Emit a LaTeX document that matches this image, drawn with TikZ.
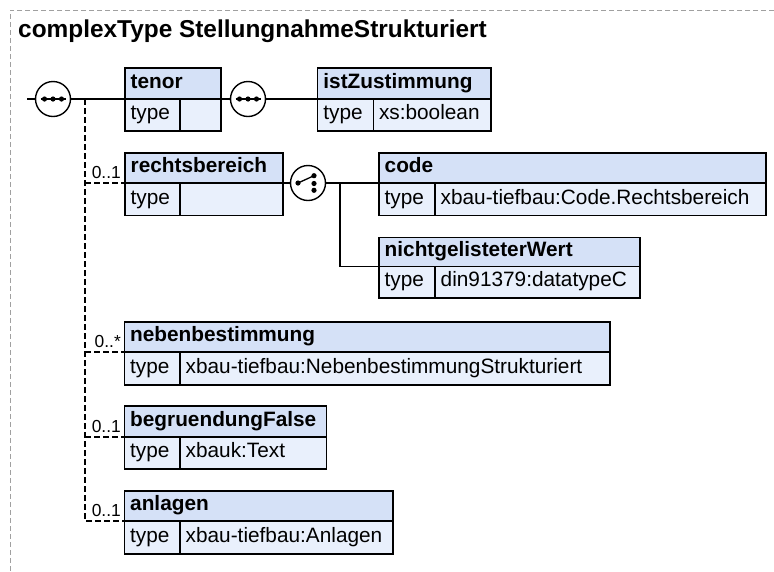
\documentclass[tikz,border=0pt]{standalone}
\usepackage{fontspec}
\setmainfont{Liberation Sans}
\definecolor{hdrcol}{RGB}{213,225,247}
\definecolor{bdycol}{RGB}{233,240,252}
\definecolor{framecol}{RGB}{160,160,160}
\tikzset{
 conn/.style={line width=1.3pt, black},
 optconn/.style={line width=1.2pt, black, dash pattern=on 6pt off 3pt},
 outerframe/.style={line width=1pt, framecol, dash pattern=on 5pt off 3pt},
 boxline/.style={line width=1.5pt, black},
 comp/.style={circle, draw, line width=1.4pt, fill=white, minimum size=35pt, inner sep=0pt},
 txt/.style={inner sep=0pt, font=\fontsize{20.8}{24}\selectfont},
 hdrtxt/.style={inner sep=0pt, font=\fontsize{20.8}{24}\selectfont\bfseries},
 lbl/.style={inner sep=0pt, font=\fontsize{17.4}{20}\selectfont},
 titletxt/.style={inner sep=0pt, font=\fontsize{24.4}{28}\selectfont\bfseries}
}
% #1 name, #2 x1, #3 x2, #4 xsep, #5 ytop, #6 ymid, #7 ybot, #8 title, #9 value
\newcommand\elbox[9]{%
 \pgfmathsetmacro\elbw{#3-#2}\pgfmathsetmacro\elbh{#7-#5}%
 \fill[bdycol] (#2,#5) rectangle (#3,#7);
 \fill[hdrcol] (#2,#5) rectangle (#3,#6);
 \draw[boxline] (#2,#6) -- (#3,#6) (#4,#6) -- (#4,#7);
 \node[draw, boxline, rectangle, inner sep=0pt, minimum width=\elbw pt, minimum height=\elbh pt, anchor=north west] (#1) at (#2,#5) {};
 \coordinate (#1-in) at (#2,#6);
 \coordinate (#1-out) at (#3,#6);
 \node[hdrtxt, anchor=base west] (#1-name) at (#2+6.5,#6-10.5) {#8};
 \node[txt, anchor=base west] (#1-tl) at (#2+6.5,#7-10.5) {type};
 \node[txt, anchor=base west] (#1-tv) at (#4+5.5,#7-10.5) {#9};
}
\begin{document}
\begin{tikzpicture}[x=1pt,y=-1pt]
\useasboundingbox (0,0) rectangle (774,571);
\fill[white] (0,0) rectangle (774,571);
\draw[outerframe] (774,10) -- (10,10) -- (10,571);

\node[titletxt, anchor=base west] (title) at (18,37.5) {complexType StellungnahmeStrukturiert};

% element boxes
\elbox{tenor}{124}{220}{180}{67}{99}{130}{tenor}{}
\elbox{ist}{316.7}{490}{373.3}{67}{99}{130}{istZustimmung}{xs:boolean}
\elbox{rb}{124}{282}{180}{152}{183}{214.5}{rechtsbereich}{}
\elbox{code}{378}{765}{435}{152}{183}{214.5}{code}{xbau-tiefbau:Code.Rechtsbereich}
\elbox{nicht}{378}{639}{435}{236.7}{266.7}{297}{nichtgelisteterWert}{din91379:datatypeC}
\elbox{neb}{123.5}{609}{180}{321}{352}{384}{nebenbestimmung}{xbau-tiefbau:NebenbestimmungStrukturiert}
\elbox{beg}{123.5}{325.7}{180}{405}{437}{468}{begruendungFalse}{xbauk:Text}
\elbox{anl}{123.5}{392}{180}{490}{521}{553}{anlagen}{xbau-tiefbau:Anlagen}

% compositors
\node[comp] (seq1) at (53,99) {};
\node[comp] (seq2) at (248,99) {};
\node[comp] (choice) at (308,183) {};

% sequence icons
\foreach \s in {seq1,seq2}{
  \draw[line width=1.3pt] ([xshift=-12.5pt]\s.center) -- ([xshift=12.5pt]\s.center);
  \fill ([xshift=-8.5pt]\s.center) circle (2.6pt);
  \fill (\s.center) circle (2.6pt);
  \fill ([xshift=8.5pt]\s.center) circle (2.6pt);
}
% choice icon
\draw[line width=1.3pt] ([xshift=-10pt]choice.center) -- ([xshift=6pt,yshift=7.3pt]choice.center);
\fill ([xshift=-10pt]choice.center) circle (2.6pt);
\fill ([xshift=6pt,yshift=7.3pt]choice.center) circle (2.6pt);
\fill ([xshift=6pt,yshift=-0.5pt]choice.center) circle (2.6pt);
\fill ([xshift=6pt,yshift=-7.3pt]choice.center) circle (2.6pt);

% connectors
\coordinate (start) at (27,99);
\coordinate (br) at (85,99);
\coordinate (cbr) at (340,183);
\draw[conn] (start) -- (seq1.west);
\draw[conn] (seq1.east) -- (tenor-in);
\draw[conn] (tenor-out) -- (seq2.west);
\draw[conn] (seq2.east) -- (ist-in);
\draw[optconn] (br) |- (anl-in);
\draw[optconn] (rb-in -| br) -- (rb-in);
\draw[optconn] (neb-in -| br) -- (neb-in);
\draw[optconn] (beg-in -| br) -- (beg-in);
\draw[conn] (rb-out) -- (choice.west);
\draw[conn] (choice.east) -- (code-in);
\draw[conn] (cbr) |- (nicht-in);

% occurrence labels
\node[lbl, anchor=base east] (occrb) at (121,178.5) {0..1};
\node[lbl, anchor=base east] (occneb) at (121,347.5) {0..*};
\node[lbl, anchor=base east] (occbeg) at (121,432.5) {0..1};
\node[lbl, anchor=base east] (occanl) at (121,516.5) {0..1};
\end{tikzpicture}
\end{document}
